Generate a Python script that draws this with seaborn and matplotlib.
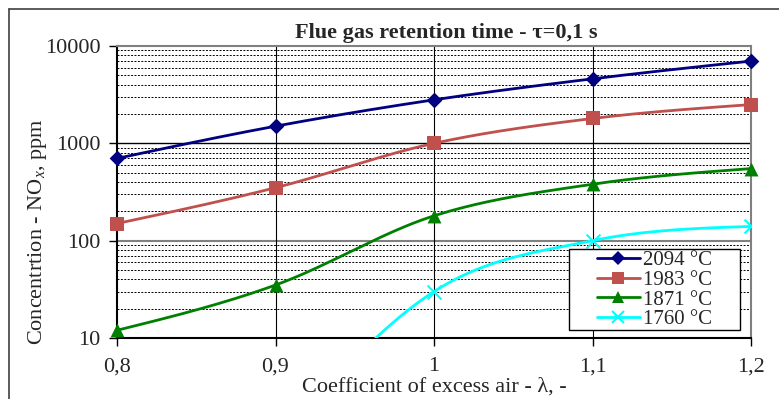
import numpy as np
import pandas as pd
import matplotlib
matplotlib.use("Agg")
import matplotlib.pyplot as plt
import seaborn as sns
from matplotlib.lines import Line2D
from matplotlib.patches import Rectangle
from matplotlib.ticker import FixedLocator, LogLocator, NullFormatter

sns.set_theme(style="white")
plt.rcParams['font.family'] = ['Liberation Serif', 'DejaVu Serif']
plt.rcParams['mathtext.fontset'] = 'custom'
plt.rcParams['mathtext.rm'] = 'Liberation Serif'
plt.rcParams['mathtext.it'] = 'Liberation Serif:italic'

# ---- data ----
lam = [0.8, 0.9, 1.0, 1.1, 1.2]
t2094 = [700, 1500, 2800, 4600, 7000]
t1983 = [150, 350, 1000, 1800, 2500]
t1871 = [12, 35, 180, 380, 550]
lam1760 = [0.9, 1.0, 1.1, 1.2]
t1760 = [0.8, 30, 100, 140]
labels = ["2094 °C", "1983 °C", "1871 °C", "1760 °C"]
xticks = [0.8, 0.9, 1.0, 1.1, 1.2]
xticklabels = ["0,8", "0,9", "1", "1,1", "1,2"]
yticks = [10, 100, 1000, 10000]
yticklabels = ["10", "100", "1000", "10000"]

colors = ["#000080", "#C0504D", "#008000", "#00FFFF"]
markers = ["D", "s", "^", "x"]
msizes = [8, 10, 10, 10]

series = [(lam, t2094), (lam, t1983), (lam, t1871), (lam1760, t1760)]


def smooth(xs, ys, n=40):
    """Smooth curve through the points in (x, log y) space, for drawing only."""
    x = np.asarray(xs, float)
    y = np.log10(np.asarray(ys, float))
    m = np.zeros_like(y)
    m[1:-1] = (y[2:] - y[:-2]) / 2
    m[0] = (3 * (y[1] - y[0]) - m[1]) / 2
    m[-1] = (3 * (y[-1] - y[-2]) - m[-2]) / 2
    xo, yo = [], []
    for i in range(len(x) - 1):
        t = np.linspace(0, 1, n)
        h00 = 2 * t**3 - 3 * t**2 + 1
        h10 = t**3 - 2 * t**2 + t
        h01 = -2 * t**3 + 3 * t**2
        h11 = t**3 - t**2
        yy = h00 * y[i] + h10 * m[i] + h01 * y[i + 1] + h11 * m[i + 1]
        xx = x[i] + t * (x[i + 1] - x[i])
        xo.extend(xx)
        yo.extend(10 ** yy)
    return np.array(xo), np.array(yo)


fig = plt.figure(figsize=(7.79, 3.99), dpi=100)
ax = fig.add_axes([117 / 779, 1 - 338 / 399, (751 - 117) / 779, (338 - 46) / 399])

ax.set_yscale("log")
ax.set_xlim(0.8, 1.2)
ax.set_ylim(10, 10000)

# grid
ax.yaxis.set_minor_locator(LogLocator(base=10, subs=np.arange(2, 10)))
ax.yaxis.set_minor_formatter(NullFormatter())
ax.grid(which="minor", axis="y", color="black", linestyle=(0, (2, 1.5)), linewidth=0.7)
for yv, c in [(1000, "black"), (100, "#808080")]:
    ax.axhline(yv, color=c, linewidth=1.0 if c == "black" else 1.5, zorder=1)
for xv in [0.9, 1.0, 1.1]:
    ax.axvline(xv, color="black", linewidth=0.8, zorder=1)

for (xs, ys), c, mk, ms, lab in zip(series, colors, markers, msizes, labels):
    sx, sy = smooth(xs, ys)
    sns.lineplot(x=sx, y=sy, ax=ax, color=c, linewidth=2, sort=False,
                 estimator=None, legend=False, zorder=3)
    sns.scatterplot(x=xs, y=ys, ax=ax, color=c, marker=mk, s=ms**2,
                    edgecolor=c, linewidth=1.5 if mk == "x" else 0,
                    legend=False, zorder=4, clip_on=False if mk != "x" else True)

ax.set_xticks(xticks)
ax.set_xticklabels(xticklabels)
ax.yaxis.set_major_locator(FixedLocator(yticks))
ax.set_yticklabels(yticklabels)
ax.tick_params(axis="both", which="major", labelsize=16, direction="out",
               length=6, width=1, color="black", left=True, bottom=True)
ax.tick_params(axis="x", which="major", pad=8)
ax.tick_params(axis="y", which="major", pad=6)
ax.tick_params(axis="y", which="minor", left=False)

for s in ["left", "bottom"]:
    ax.spines[s].set_color("black")
    ax.spines[s].set_linewidth(1.5)
for s in ["right", "top"]:
    ax.spines[s].set_color("#808080")
    ax.spines[s].set_linewidth(1.5)

ax.set_xlabel("Coefficient of excess air - λ, -", fontsize=16, labelpad=1)
ax.set_ylabel("Concentrtion - NO$_x$, ppm", fontsize=16)
ax.yaxis.set_label_coords(-0.107, 0.363)
ax.set_title("Flue gas retention time - τ=0,1 s", fontsize=16, fontweight="bold",
             pad=6, x=0.519)

# legend box (Excel-like wide frame)
fig.add_artist(Rectangle((569 / 779, 1 - 330 / 399), 171 / 779, 81 / 399,
                         transform=fig.transFigure, facecolor="white",
                         edgecolor="black", linewidth=1, zorder=5))
handles = [Line2D([0], [0], color=c, marker=mk, markersize=ms * 0.85, linewidth=2,
                  markeredgewidth=1.5 if mk == "x" else 0)
           for c, mk, ms in zip(colors, markers, msizes)]
leg = fig.legend(handles, labels, loc="center",
                 bbox_to_anchor=(654.5 / 779, 1 - 290 / 399),
                 bbox_transform=fig.transFigure,
                 fontsize=15, frameon=False, handlelength=2.05,
                 labelspacing=0.0, borderpad=0.0, handletextpad=0.15)
leg.set_zorder(6)

# outer figure border (top and left visible)
fig.add_artist(Line2D([9 / 779, 9 / 779], [0, 1 - 9 / 399], transform=fig.transFigure,
                      color="#404040", linewidth=1.2))
fig.add_artist(Line2D([9 / 779, 1], [1 - 9 / 399, 1 - 9 / 399], transform=fig.transFigure,
                      color="#404040", linewidth=1.2))

fig.savefig("out.png", dpi=100)
